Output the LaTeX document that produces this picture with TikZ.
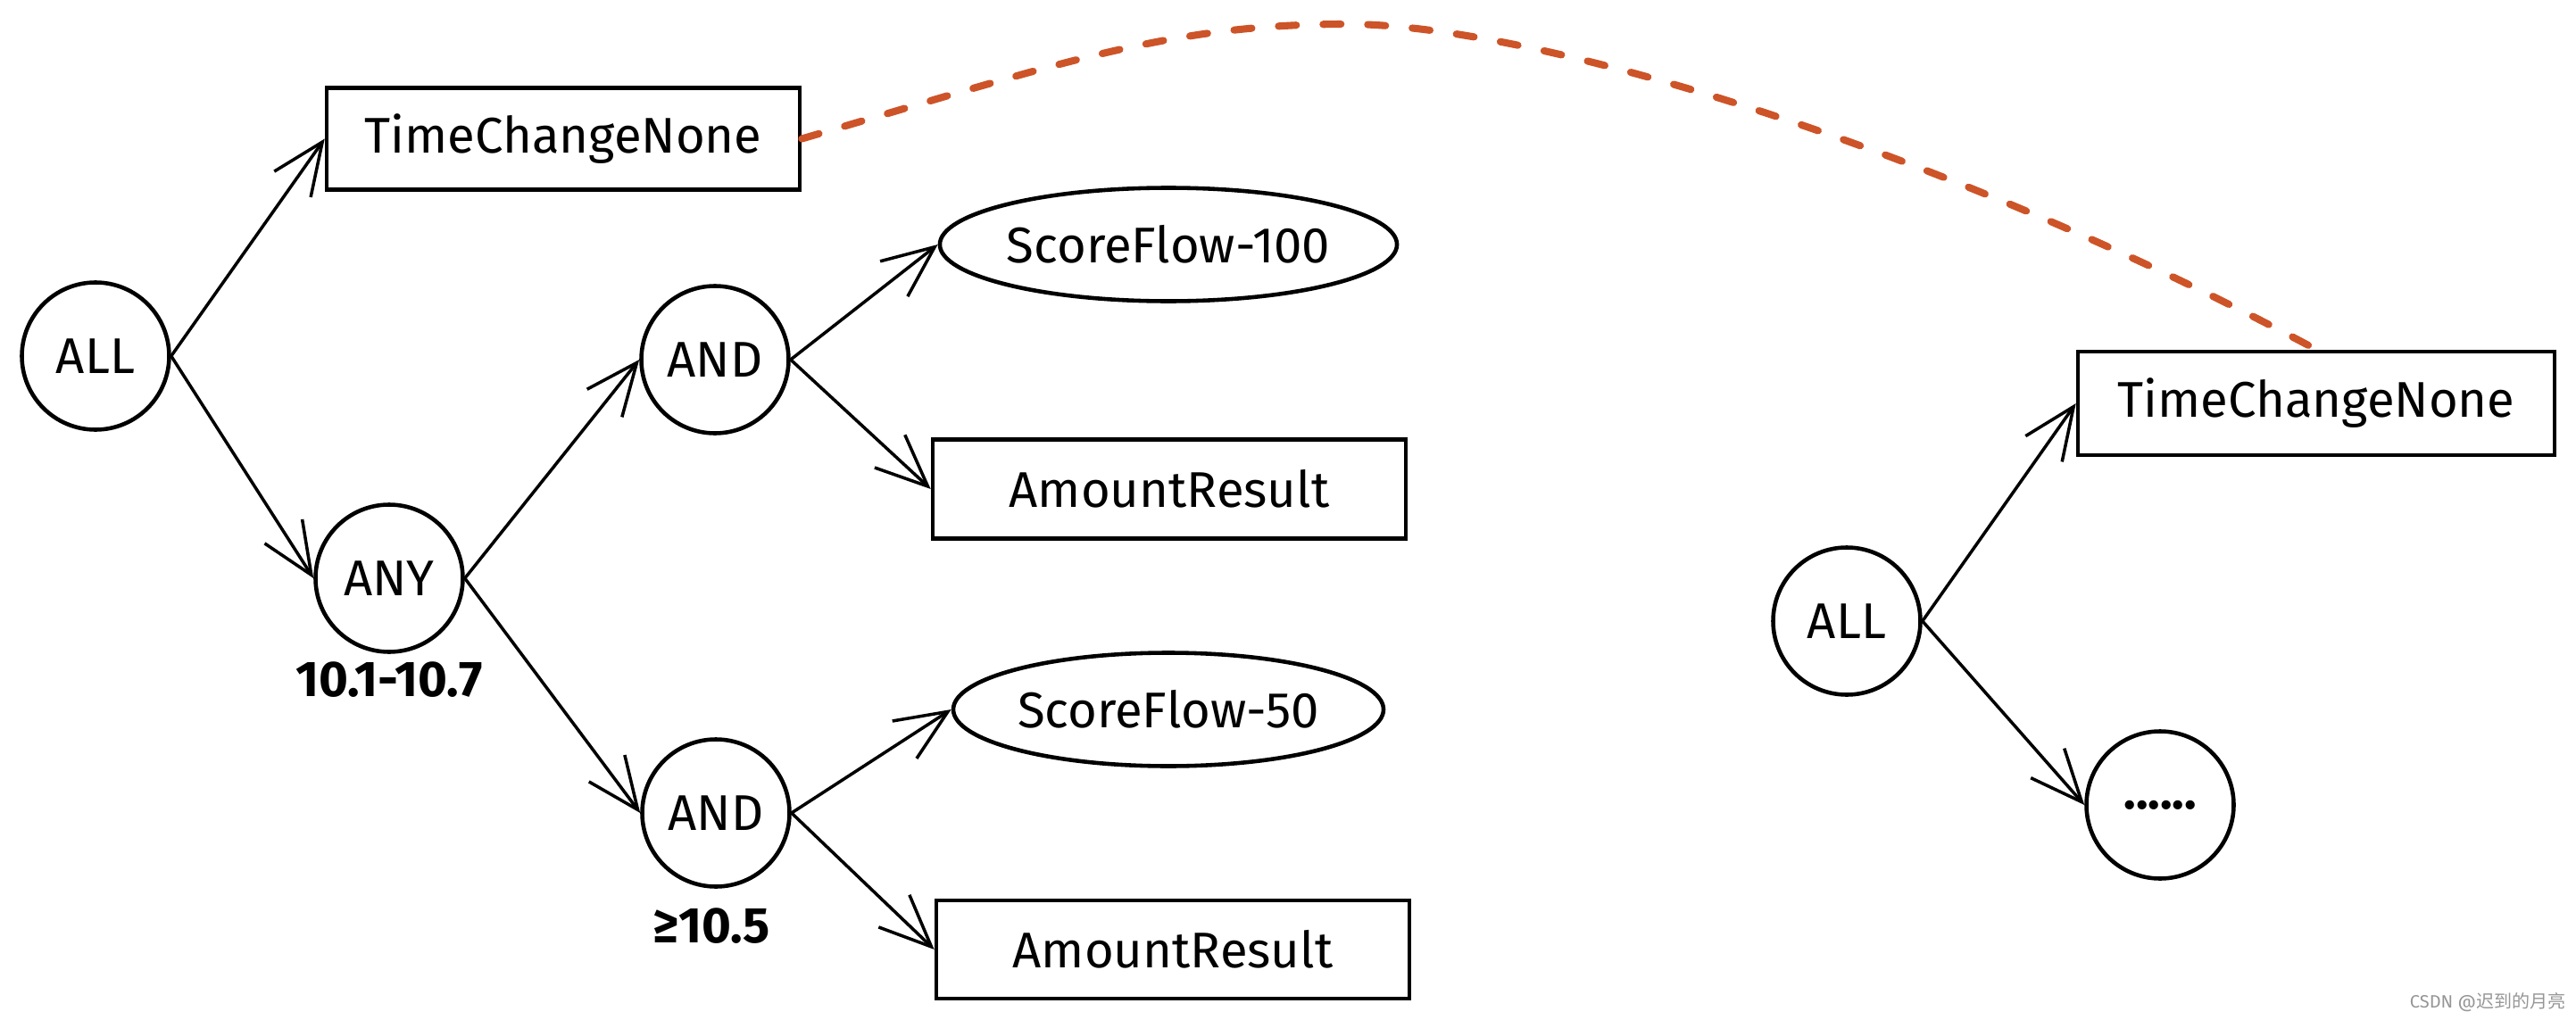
\documentclass[tikz,border=0pt]{standalone}
\usepackage{fontspec}
\setmainfont{Fira Sans}
\newfontfamily\cjkfont{Noto Sans CJK SC}
\usetikzlibrary{arrows.meta,shapes.geometric}

\definecolor{jumporange}{RGB}{205,84,40}
\definecolor{markgray}{RGB}{150,150,150}

\tikzset{
  opnode/.style={draw,circle,line width=1.3pt,minimum size=1.65cm,inner sep=0pt,font=\fontsize{16}{19}\selectfont},
  leafbox/.style={draw,rectangle,line width=1.3pt,minimum width=5.3cm,minimum height=1.14cm,font=\fontsize{16}{19}\selectfont},
  leafoval/.style={draw,ellipse,line width=1.3pt,minimum width=4.82cm,minimum height=1.27cm,inner sep=0pt,font=\fontsize{16}{19}\selectfont},
  link/.style={line width=1pt,-{Straight Barb[length=0.58cm,width=0.5cm,line width=1pt]}},
  jump/.style={jumporange,line width=2.3pt,line cap=round,dash pattern=on 0.2cm off 0.3cm},
  cond/.style={font=\fontsize{16}{19}\selectfont\bfseries}
}

\begin{document}
\begin{tikzpicture}
    \useasboundingbox (0,0) rectangle (28.86,11.42);

    % left tree
    \node[opnode] (allA) at (1.07,7.43) {ALL};
    \node[leafbox] (tcnA) at (6.31,9.865) {TimeChangeNone};
    \node[opnode] (any) at (4.36,4.94) {ANY};
    \node[cond] (anyrange) at (4.36,3.80) {10.1-10.7};
    \node[opnode] (andA) at (8.01,7.39) {AND};
    \node[opnode] (andB) at (8.02,2.31) {AND};
    \node[cond] (andlimit) at (7.97,1.04) {≥10.5};
    \node[leafoval] (sfA) at (13.09,8.68) {ScoreFlow-100};
    \node[leafbox,minimum height=1.11cm] (arA) at (13.10,5.94) {AmountResult};
    \node[leafoval] (sfB) at (13.09,3.47) {ScoreFlow-50};
    \node[leafbox,minimum height=1.1cm] (arB) at (13.14,0.78) {AmountResult};

    \draw[link] (allA.east) -- (tcnA.west);
    \draw[link] (allA.east) -- (any.west);
    \draw[link] (any.east) -- (andA.west);
    \draw[link] (any.east) -- (andB.west);
    \draw[link] (andA.east) -- (sfA.west);
    \draw[link] (andA.east) -- (arA.west);
    \draw[link] (andB.east) -- (sfB.west);
    \draw[link] (andB.east) -- (arB.west);

    % right tree
    \node[opnode] (allB) at (20.69,4.46) {ALL};
    \node[leafbox,minimum width=5.34cm,minimum height=1.16cm] (tcnB) at (25.95,6.90) {TimeChangeNone};
    \node[opnode] (more) at (24.20,2.40) {\textbf{......}};

    \draw[link] (allB.east) -- (tcnB.west);
    \draw[link] (allB.east) -- (more.west);

    % same condition in both trees
    \draw[jump] (tcnA.east) .. controls (11.84,10.70) and (13.08,11.15) .. (15.08,11.15)
        .. controls (17.28,11.15) and (21.92,9.67) .. (tcnB.north);

    \node[text=markgray,font=\fontsize{5.7}{7}\selectfont] (mark) at (27.87,0.19) {CSDN @{\cjkfont 迟到的月亮}};
\end{tikzpicture}
\end{document}
